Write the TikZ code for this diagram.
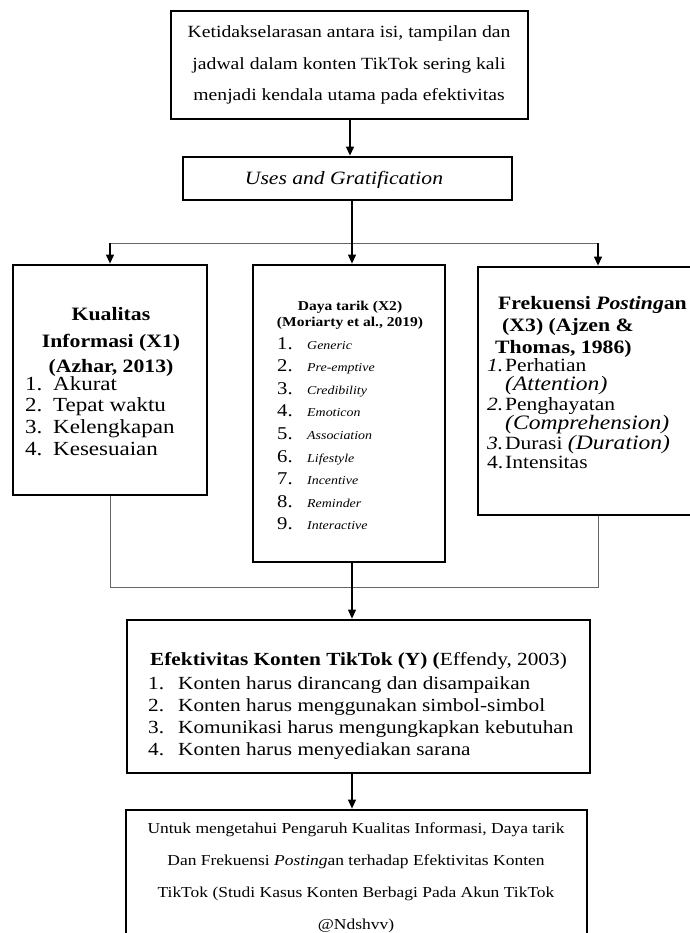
\documentclass[tikz,border=0pt]{standalone}
\usepackage{fontspec}
\setmainfont{Liberation Serif}[FakeStretch=1.15]
\usetikzlibrary{arrows.meta}
\newcommand\fsz[1]{\fontsize{#1}{#1}\selectfont}
\begin{document}
\begin{tikzpicture}[x=1pt,y=-1pt,
  box/.style={draw=black, line width=2.8pt, fill=white, inner sep=0pt},
  conn/.style={draw=black, line width=1.1pt},
  arr/.style={conn, -{Triangle[length=9pt,width=8pt]}},
  gline/.style={draw=black!60, line width=1pt},
  txt/.style={inner sep=0pt, anchor=base},
  txtl/.style={inner sep=0pt, anchor=base west}]
\useasboundingbox (0,0) rectangle (689,933);
% junction coordinates
\coordinate (j1) at (352,243);
\coordinate (jl) at (110,243);
\coordinate (jr) at (598,243);
\coordinate (bl) at (110,587);
\coordinate (bm) at (352,587);
\coordinate (br) at (598,587);
% boxes
\node[box, minimum width=357pt, minimum height=108pt] (top) at (349.5,65) {};
\node[box, minimum width=329pt, minimum height=43pt] (uses) at (347.5,178.5) {};
\node[box, minimum width=194pt, minimum height=230pt] (kual) at (110,380) {};
\node[box, minimum width=192pt, minimum height=297pt] (daya) at (349,413.5) {};
\node[box, minimum width=222pt, minimum height=248pt] (freq) at (589,391) {};
\node[box, minimum width=463pt, minimum height=153pt] (efek) at (358.5,696.5) {};
\node[box, minimum width=461pt, minimum height=200pt] (tujuan) at (356.5,910) {};
% connectors
\draw[arr] (350,0 |- top.south) -- (350,0 |- uses.north);
\draw[conn] (j1 |- uses.south) -- (j1);
\draw[gline] (jl) -- (jr);
\draw[arr] (jl) -- (jl |- kual.north);
\draw[arr] (j1) -- (j1 |- daya.north);
\draw[arr] (jr) -- (jr |- freq.north);
\draw[gline] (bl |- kual.south) -- (bl) -- (br) -- (br |- freq.south);
\draw[conn] (bm |- daya.south) -- (bm);
\draw[arr] (bm) -- (bm |- efek.north);
\draw[arr] (bm |- efek.south) -- (bm |- tujuan.north);
% top text
\node[txt, font=\fsz{17.1}] (t1) at (349,38) {Ketidakselarasan antara isi, tampilan dan};
\node[txt, font=\fsz{17.1}] (t2) at (349,70) {jadwal dalam konten TikTok sering kali};
\node[txt, font=\fsz{17.1}] (t3) at (349,101) {menjadi kendala utama pada efektivitas};
\node[txt, font=\itshape\fsz{18.8}] (u1) at (344,185) {Uses and Gratification};
% left box
\node[txt, font=\bfseries\fsz{18.9}] (k1) at (111,320) {Kualitas};
\node[txt, font=\bfseries\fsz{18.9}] (k2) at (111,347) {Informasi (X1)};
\node[txt, font=\bfseries\fsz{18.9}] (k3) at (111,372) {(Azhar, 2013)};
\foreach \w [count=\i] in {Akurat, Tepat waktu, Kelengkapan, Kesesuaian}
  \node[txtl, font=\fsz{20}] (kl\i) at (25,{390+21.7*(\i-1)}) {\makebox[28pt][l]{\i.}\w};
% middle box
\node[txt, font=\bfseries\fsz{13.5}] (d1) at (350,310) {Daya tarik (X2)};
\node[txt, font=\bfseries\fsz{13.5}] (d2) at (350,326) {(Moriarty et al., 2019)};
\foreach \w [count=\i] in {Generic, Pre-emptive, Credibility, Emoticon, Association, Lifestyle, Incentive, Reminder, Interactive}
  \node[txtl] (dl\i) at (277,{349+22.6*(\i-1)}) {{\fsz{18}\makebox[30pt][l]{\i.}}{\itshape\fsz{12.1}\w}};
% right box
\node[txtl, font=\bfseries\fsz{18.9}] (f1) at (498,309) {Frekuensi \textit{Posting}an};
\node[txtl, font=\bfseries\fsz{18.9}] (f2) at (502,331) {(X3) (Ajzen \&};
\node[txtl, font=\bfseries\fsz{18.9}] (f3) at (495,353) {Thomas, 1986)};
\node[txtl, font=\fsz{18.7}] (fl1) at (487,371) {\makebox[18pt][l]{\textit{1.}}Perhatian};
\node[txtl, font=\itshape\fsz{20.5}] (fl2) at (505,390) {(Attention)};
\node[txtl, font=\fsz{18.7}] (fl3) at (487,410) {\makebox[18pt][l]{\textit{2.}}Penghayatan};
\node[txtl, font=\itshape\fsz{20.5}] (fl4) at (505,429) {(Comprehension)};
\node[txtl, font=\fsz{18.7}] (fl5) at (487,449) {\makebox[18pt][l]{\textit{3.}}Durasi {\itshape\fsz{20.5}(Duration)}};
\node[txtl, font=\fsz{18.7}] (fl6) at (487,468) {\makebox[18pt][l]{4.}Intensitas};
% Y box
\node[txtl, font=\fsz{18.5}] (e0) at (150,665) {\textbf{Efektivitas Konten TikTok (Y) (}Effendy, 2003)};
\foreach \w [count=\i] in {Konten harus dirancang dan disampaikan, Konten harus menggunakan simbol-simbol, Komunikasi harus mengungkapkan kebutuhan, Konten harus menyediakan sarana}
  \node[txtl, font=\fsz{18.5}] (el\i) at (148,{689+22*(\i-1)}) {\makebox[30pt][l]{\i.}\w};
% bottom box
\node[txt, font=\fsz{15.2}] (b1) at (356,833) {Untuk mengetahui Pengaruh Kualitas Informasi, Daya tarik};
\node[txt, font=\fsz{15.2}] (b2) at (356,865) {Dan Frekuensi \textit{Posting}an terhadap Efektivitas Konten};
\node[txt, font=\fsz{15.2}] (b3) at (356,897) {TikTok (Studi Kasus Konten Berbagi Pada Akun TikTok};
\node[txt, font=\fsz{15.2}] (b4) at (356,929) {@Ndshvv)};
\end{tikzpicture}
\end{document}
